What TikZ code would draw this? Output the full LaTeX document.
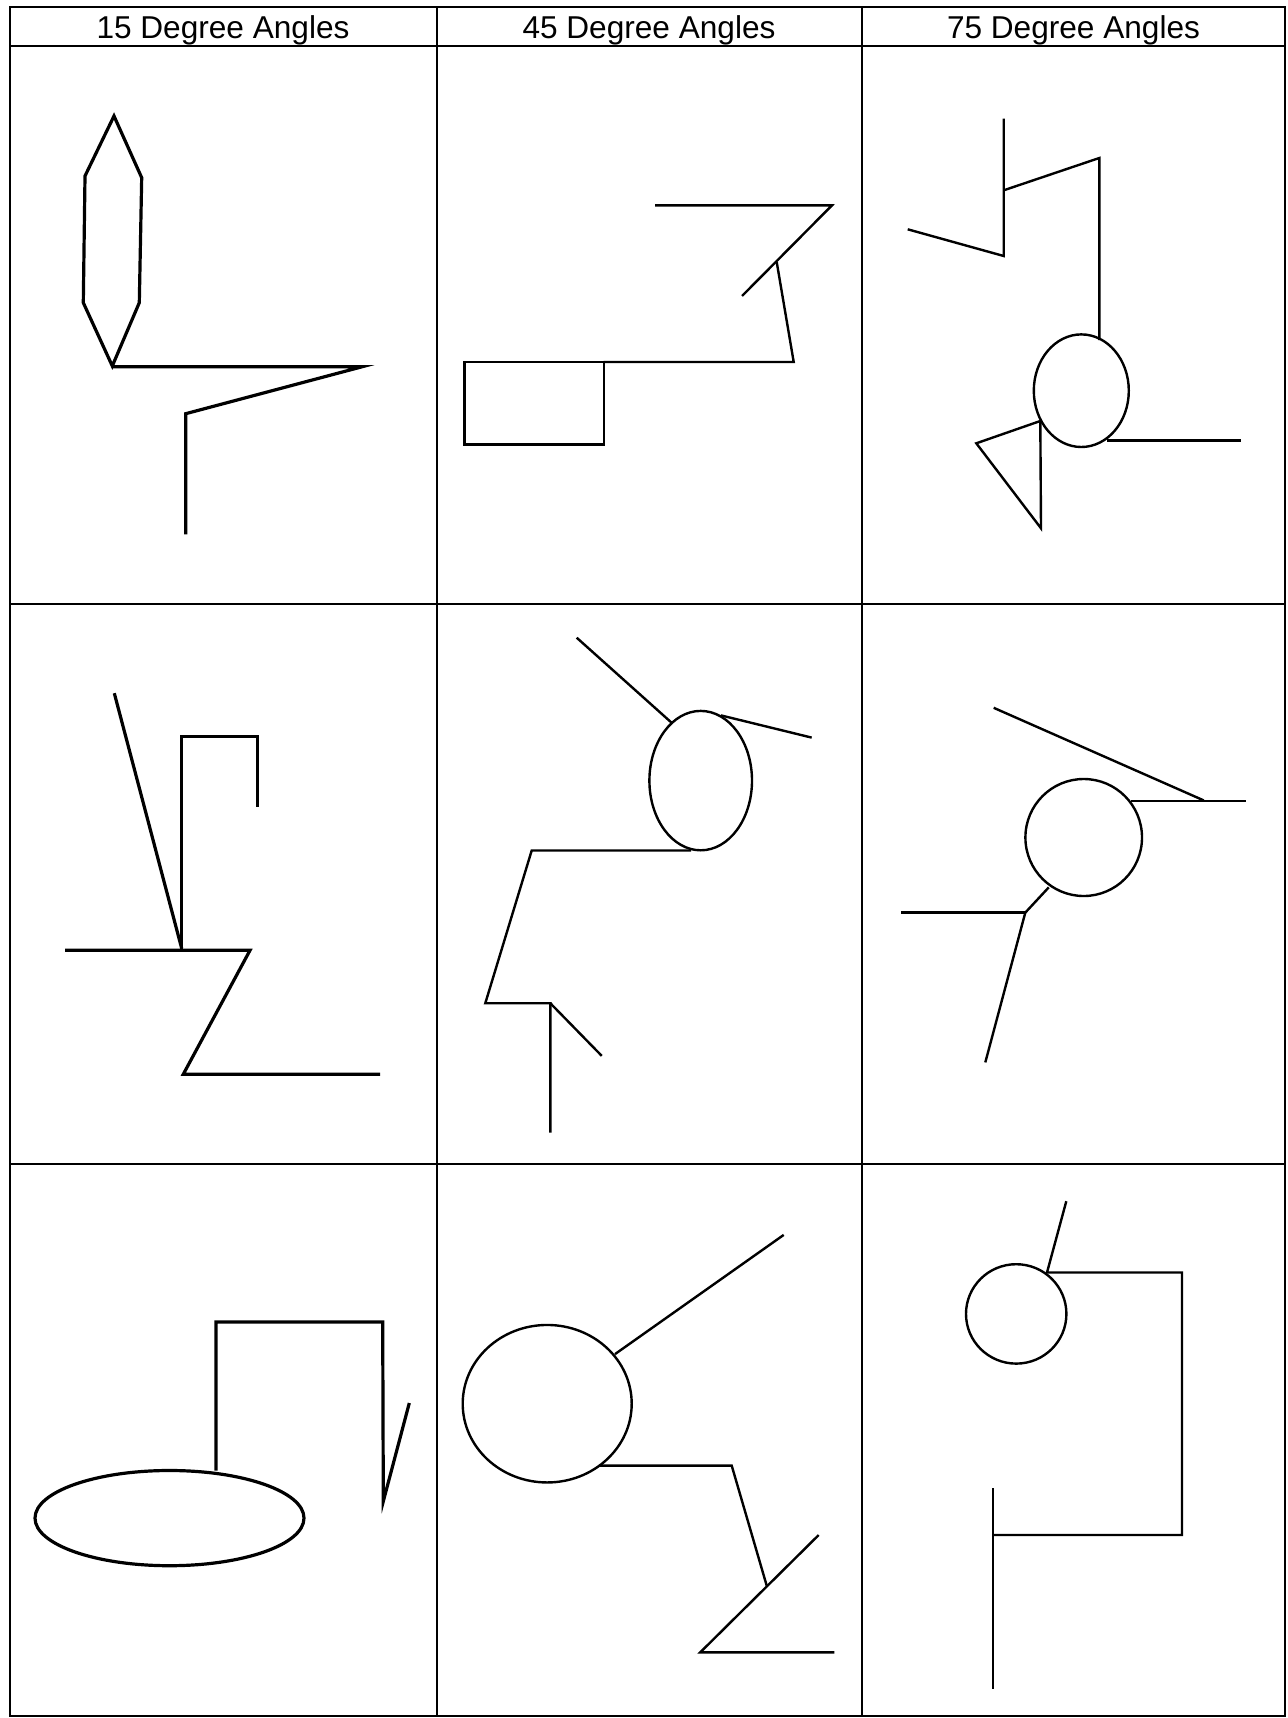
\documentclass[tikz,border=0pt]{standalone}
\usepackage{fontspec}
\setmainfont{Liberation Sans}
\usetikzlibrary{positioning}

\begin{document}
\begin{tikzpicture}[x=0.5pt, y=-0.5pt,
    every node/.style={font=\fontsize{15.8}{18}\selectfont, inner sep=0pt},
    gridline/.style={line width=1pt},
    stroke/.style={line width=1.2pt, line join=miter},
    boldstroke/.style={line width=1.6pt, line join=miter}]
  \useasboundingbox (0,0) rectangle (1287,1718);
  % Table frame
  \draw[gridline] (10,7) rectangle (1285,1716);
  \foreach \y in {46,604.4,1163.7} \draw[gridline] (10,\y) -- (1285,\y);
  \foreach \x in {436.5,862} \draw[gridline] (\x,7) -- (\x,1716);
  % Column heads
  \node[anchor=base] (hd15) at (223,38.5) {15 Degree Angles};
  \node[anchor=base] (hd45) at (649,38.5) {45 Degree Angles};
  \node[anchor=base] (hd75) at (1073.5,38.5) {75 Degree Angles};

  % Row 1, 15 degrees
  \draw[boldstroke] (114,116) -- (141.7,177.7) -- (139.3,302.7) -- (112.3,366)
    -- (83.3,302.7) -- (85,176) -- cycle;
  \draw[boldstroke] (112.3,366.7) -- (362.3,366.7) -- (185.7,413.7) -- (185.7,534.3);
  % Row 1, 45 degrees
  \draw[stroke] (464.3,362) rectangle (603.7,444.3);
  \draw[stroke] (603.7,362) -- (793.7,362) -- (776.7,262);
  \draw[stroke] (655,205.3) -- (832,205.3) -- (742,296);
  % Row 1, 75 degrees
  \coordinate (ovA) at (1081.3,390.7);
  \draw[stroke] (907.7,229.3) -- (1003.7,256) -- (1003.7,118.7);
  \draw[stroke] (1003.7,190.3) -- (1099.3,158) -- (1099.3,340);
  \draw[stroke] (ovA) ellipse [x radius=47.5, y radius=56.3];
  \draw[stroke] (1107,440.3) -- (1241.3,440.3);
  \draw[stroke] (1040.3,421) -- (976.3,443.3) -- (1041,528.3) -- cycle;

  % Row 2, 15 degrees
  \draw[boldstroke] (114.3,693.2) -- (181.7,948.5);
  \draw[boldstroke] (181.7,950.3) -- (181.7,736.8) -- (257.7,736.8) -- (257.7,807.2);
  \draw[boldstroke] (65,950.3) -- (250,950.3) -- (183.3,1074.2) -- (380,1074.2);
  % Row 2, 45 degrees
  \coordinate (ovB) at (700.7,780.6);
  \draw[stroke] (ovB) ellipse [x radius=51.3, y radius=69.7];
  \draw[stroke] (576.7,637.7) -- (671.7,722.8);
  \draw[stroke] (721,715.4) -- (811.7,737.6);
  \draw[stroke] (691,850.5) -- (531.7,850.5) -- (485.3,1003.2) -- (550.3,1003.2) -- (550.3,1132.7);
  \draw[stroke] (550.3,1003.2) -- (601.7,1055.8);
  % Row 2, 75 degrees
  \coordinate (ovC) at (1083.7,837.5);
  \draw[stroke] (ovC) ellipse [x radius=58.3, y radius=58.5];
  \draw[stroke] (993.7,707.8) -- (1203.7,800.4);
  \draw[stroke] (1131.3,801.2) -- (1246.3,801.2);
  \draw[stroke] (1048.7,887.4) -- (1025.3,912.6) -- (985.3,1062.4);
  \draw[stroke] (901.3,912.6) -- (1025.3,912.6);

  % Row 3, 15 degrees
  \coordinate (ovD) at (169.5,1518.1);
  \draw[boldstroke] (ovD) ellipse [x radius=134.5, y radius=47.6];
  \draw[boldstroke] (216,1470.5) -- (216,1322) -- (382.7,1322) -- (383.3,1501.3) -- (409.3,1403);
  % Row 3, 45 degrees
  \coordinate (ovE) at (547.2,1403.7);
  \draw[stroke] (ovE) ellipse [x radius=84.5, y radius=78.75];
  \draw[stroke] (615,1354.1) -- (783.7,1234.9);
  \draw[stroke] (599.3,1465.6) -- (731.7,1465.6) -- (766.7,1585.6);
  \draw[stroke] (818.7,1535) -- (700.3,1652.3) -- (834.3,1652.3);
  % Row 3, 75 degrees
  \coordinate (ovF) at (1016.2,1313.9);
  \draw[stroke] (ovF) ellipse [x radius=50.2, y radius=49.7];
  \draw[stroke] (1066.3,1201.2) -- (1047,1272.5) -- (1182,1272.5) -- (1182,1535) -- (993,1535);
  \draw[stroke] (993,1488.1) -- (993,1688.8);
\end{tikzpicture}
\end{document}
